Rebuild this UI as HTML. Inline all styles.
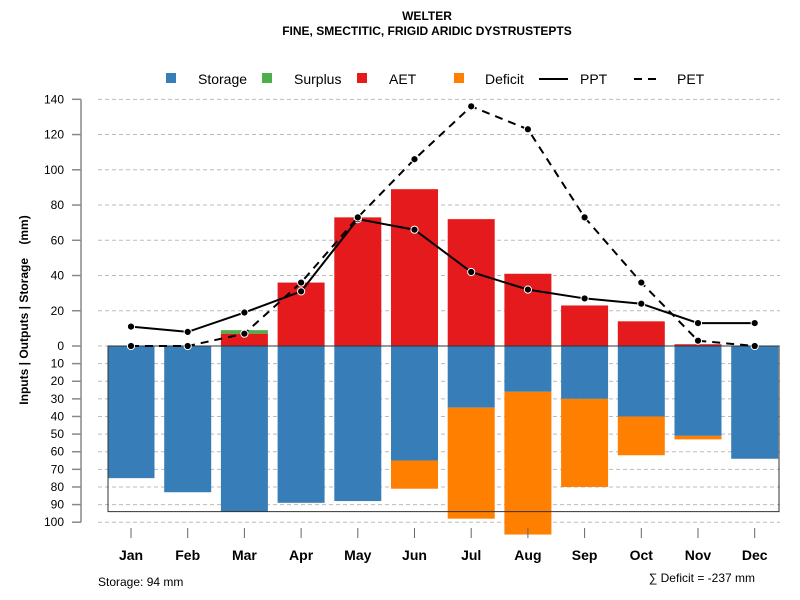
<!DOCTYPE html>
<html><head><meta charset="utf-8"><style>
body{margin:0;background:#fff;font-family:"Liberation Sans",sans-serif}
svg{display:block}
.pre{white-space:pre}
</style></head><body>
<svg id="c" width="800" height="600" xmlns="http://www.w3.org/2000/svg">
<text x="427" y="20" text-anchor="middle" font-size="12" font-weight="bold">WELTER</text>
<text x="427" y="35" text-anchor="middle" font-size="12" font-weight="bold">FINE, SMECTITIC, FRIGID ARIDIC DYSTRUSTEPTS</text>
<g font-size="14">
<rect x="166" y="73" width="10" height="10" fill="#377eb8"/>
<text x="198" y="84">Storage</text>
<rect x="262" y="73" width="10" height="10" fill="#4daf4a"/>
<text x="294" y="84">Surplus</text>
<rect x="357" y="73" width="10" height="10" fill="#e41a1c"/>
<text x="389" y="84">AET</text>
<rect x="454" y="73" width="10" height="10" fill="#ff7f00"/>
<text x="485" y="84">Deficit</text>
<line x1="539" y1="79" x2="568" y2="79" stroke="#000" stroke-width="2"/>
<text x="580" y="84">PPT</text>
<line x1="634" y1="79" x2="660" y2="79" stroke="#000" stroke-width="2" stroke-dasharray="8,6"/>
<text x="677" y="84">PET</text>
</g>
<text class="pre" transform="translate(28,310) rotate(-90)" text-anchor="middle" font-size="12" font-weight="bold">Inputs | Outputs | Storage    (mm)</text>
<text x="98" y="586" font-size="12">Storage: 94 mm</text>
<text x="755" y="582" text-anchor="end" font-size="12">∑ Deficit = -237 mm</text>
<g id="plot"></g>
</svg>
<script>
const months=["Jan","Feb","Mar","Apr","May","Jun","Jul","Aug","Sep","Oct","Nov","Dec"];
const storage=[75,83,94,89,88,65,35,26,30,40,51,64];
const deficit=[0,0,0,0,0,16,63,81,50,22,2,0];
const aet=[0,0,7,36,73,89,72,41,23,14,1,0];
const surplus=[0,0,2,0,0,0,0,0,0,0,0,0];
const ppt=[11,8,19,31,72,66,42,32,27,24,13,13];
const pet=[0,0,7,36,73,106,136,123,73,36,3,0];
const upTicks=[0,20,40,60,80,100,120,140];
const downTicks=[10,20,30,40,50,60,70,80,90,100];
const storageMax=94;
const NS="http://www.w3.org/2000/svg";
const g=document.getElementById('plot');
const y0=346,k=1.762;
const Y=v=>y0-v*k;
const X=i=>131+i*56.7;
const bw=47;
function el(t,a){const e=document.createElementNS(NS,t);for(const n in a)e.setAttribute(n,a[n]);g.appendChild(e);return e;}
el('line',{x1:81,y1:Y(140),x2:81,y2:Y(-100),stroke:'#888','stroke-width':1.5});
upTicks.forEach(v=>{
 const l=el('line',{x1:98,x2:780,y1:Y(v),y2:Y(v),stroke:'#bbb','stroke-dasharray':'4,3'});
 
 
 el('line',{x1:72,x2:81,y1:Y(v),y2:Y(v),stroke:'#888','stroke-width':1.5});
 const t=el('text',{x:64,y:Y(v)+4,'text-anchor':'end','font-size':12});t.textContent=v;
 
 
});
downTicks.forEach(v=>{
 const l=el('line',{x1:98,x2:780,y1:Y(-v),y2:Y(-v),stroke:'#bbb','stroke-dasharray':'4,3'});
 
 
 el('line',{x1:72,x2:81,y1:Y(-v),y2:Y(-v),stroke:'#888','stroke-width':1.5});
 const t=el('text',{x:64,y:Y(-v)+4,'text-anchor':'end','font-size':12});t.textContent=v;
 
 
});
months.forEach((m,i)=>{
 const x=X(i)-bw/2;
 let r=el('rect',{x:x,y:y0,width:bw,height:storage[i]*k,fill:'#377eb8'});
 
 
 if(deficit[i]>0){r=el('rect',{x:x,y:Y(-storage[i]),width:bw,height:deficit[i]*k,fill:'#ff7f00'});
 
 }
 if(aet[i]>0){r=el('rect',{x:x,y:Y(aet[i]),width:bw,height:aet[i]*k,fill:'#e41a1c'});
 
 }
 if(surplus[i]>0){r=el('rect',{x:x,y:Y(aet[i]+surplus[i]),width:bw,height:surplus[i]*k,fill:'#4daf4a'});
 
 }
 el('line',{x1:X(i),x2:X(i),y1:528,y2:538,stroke:'#666'});
 const t=el('text',{x:X(i),y:560,'text-anchor':'middle','font-size':14,'font-weight':'bold'});t.textContent=m;
 
 
});
const bx=el('rect',{x:108,y:y0,width:671,height:storageMax*k,fill:'none',stroke:'#333','stroke-width':1});


function line(vals,dash,name){
 const p=el('polyline',{points:vals.map((v,i)=>X(i)+','+Y(v)).join(' '),fill:'none',stroke:'#000','stroke-width':2,'stroke-dasharray':dash});
 
 
 vals.forEach((v,i)=>{const c=el('circle',{cx:X(i),cy:Y(v),r:3.6,fill:'#000',stroke:'#fff','stroke-width':1});
 
 });
}
line(ppt,'none','ppt');
line(pet,'8,6','pet');
</script>
</body></html>
